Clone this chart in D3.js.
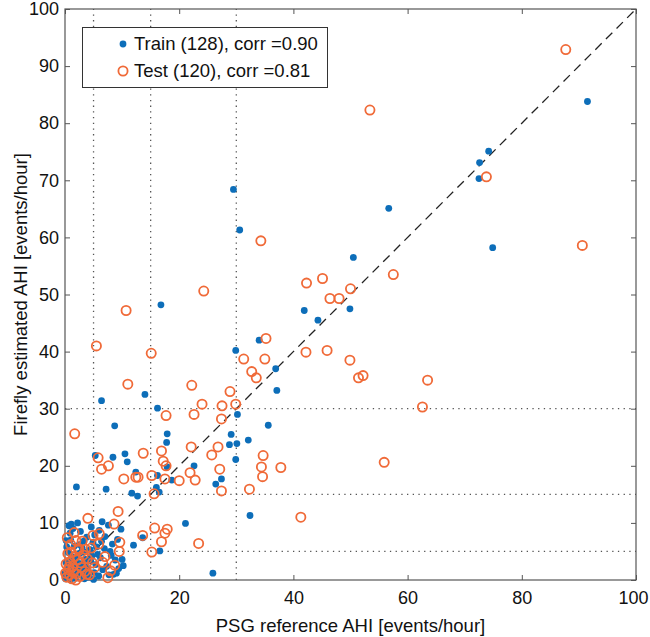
<!DOCTYPE html>
<html>
<head>
<meta charset="utf-8">
<title>Firefly estimated AHI vs PSG reference AHI</title>
<style>
    body { margin: 0; background: #fff; }
    text { font-family: 'Liberation Sans', Arial, Helvetica, sans-serif; fill: #111; }
</style>
<script src="https://d3js.org/d3.v7.min.js"></script>
</head>
<body>
<div id="chart"></div>
<script>
    // [PSG reference AHI, Firefly estimated AHI]
    var trainPts = [
        [91.5, 83.8], [74.2, 75.1], [72.6, 73.1], [72.5, 70.3], [74.9, 58.2],
        [29.5, 68.4], [30.6, 61.3], [56.7, 65.1], [50.5, 56.5], [41.9, 47.2],
        [44.3, 45.5], [49.9, 47.5], [34.0, 42.0], [29.9, 40.2], [36.9, 37.0],
        [37.1, 33.2], [30.2, 29.0], [35.6, 27.1], [29.1, 25.5], [28.8, 23.7],
        [30.1, 23.9], [32.1, 24.5], [29.9, 21.1], [22.6, 20.0], [27.4, 17.7],
        [26.4, 16.8], [16.8, 48.2], [6.4, 31.4], [14.0, 32.5], [16.2, 30.1],
        [8.7, 27.0], [17.9, 25.6], [17.8, 24.1], [5.3, 21.8], [10.5, 22.1],
        [8.4, 21.5], [10.9, 20.7], [17.9, 19.8], [2.0, 16.3], [7.2, 15.9],
        [12.4, 18.9], [11.7, 15.2], [12.7, 14.7], [16.2, 18.3], [16.0, 16.2],
        [16.5, 15.4], [18.7, 17.5], [21.1, 9.9], [13.6, 7.4], [12.0, 6.1],
        [16.6, 5.1], [1.1, 9.8], [2.2, 10.0], [6.5, 10.2], [7.6, 9.6],
        [9.8, 8.9], [3.3, 6.8], [10.0, 3.6], [10.2, 2.5], [8.5, 1.0],
        [25.9, 1.2], [32.4, 11.3],
        [0.3, 5.8], [1.0, 7.0], [1.2, 4.1], [2.6, 4.7], [4.4, 5.3],
        [5.5, 5.8], [7.9, 5.0], [8.8, 3.5], [9.0, 1.2], [0.2, 3.0],
        [0.5, 1.5], [0.8, 0.6], [1.5, 2.2], [1.8, 0.3], [2.3, 1.4],
        [2.9, 2.8], [3.1, 0.8], [3.6, 3.6], [4.0, 2.0], [4.2, 0.5],
        [4.7, 4.2], [5.1, 1.3], [5.4, 2.7], [5.9, 0.7], [6.2, 3.9],
        [6.6, 1.8], [6.9, 5.5], [7.3, 2.4], [7.7, 0.9], [8.1, 4.3],
        [9.4, 2.0], [0.1, 0.2], [0.4, 2.5], [0.6, 4.8], [1.1, 3.3],
        [1.3, 1.0], [1.6, 5.9], [2.0, 3.9], [2.1, 0.9], [2.5, 6.2],
        [2.8, 1.9], [3.3, 4.9], [3.5, 2.4], [3.9, 1.1], [0.9, 8.2],
        [1.4, 9.0], [2.7, 8.5], [3.8, 7.5], [4.6, 9.3], [5.2, 7.9],
        [6.0, 8.7], [0.2, 6.9], [0.7, 9.5], [3.0, 5.6], [4.9, 6.6],
        [5.7, 4.5], [6.4, 6.8], [7.0, 7.6], [8.3, 6.3], [9.2, 7.1],
        [0.0, 1.2], [1.0, 0.1], [2.4, 2.9], [3.4, 0.2], [4.5, 3.3],
        [5.0, 0.1]
    ];
    var testPts = [
        [87.7, 92.9], [73.8, 70.6], [90.6, 58.6], [53.4, 82.3], [34.3, 59.4],
        [24.3, 50.6], [42.3, 52.0], [45.1, 52.8], [57.5, 53.5], [50.0, 51.0],
        [46.4, 49.3], [48.0, 49.3], [35.2, 42.3], [42.2, 39.9], [45.9, 40.2],
        [49.9, 38.5], [31.3, 38.7], [35.0, 38.7], [32.7, 36.5], [33.5, 35.4],
        [51.4, 35.4], [52.2, 35.8], [63.5, 35.0], [62.6, 30.3], [22.2, 34.1],
        [28.9, 33.0], [24.0, 30.8], [22.6, 29.0], [27.5, 30.5], [29.9, 30.8],
        [27.4, 28.2], [22.1, 23.3], [26.8, 23.3], [25.7, 21.9], [34.7, 21.8],
        [34.4, 19.8], [34.6, 18.1], [37.8, 19.7], [27.1, 19.4], [22.8, 17.5],
        [21.9, 18.8], [55.9, 20.6], [27.4, 15.6], [32.3, 15.9], [10.7, 47.2],
        [5.5, 41.0], [15.1, 39.7], [11.0, 34.3], [1.7, 25.6], [17.7, 28.8],
        [5.8, 21.4], [6.4, 19.4], [7.6, 20.0], [13.7, 22.2], [16.9, 22.6],
        [17.2, 20.8], [17.7, 20.0], [10.3, 17.7], [12.4, 18.0], [12.8, 18.0],
        [15.2, 18.3], [17.5, 17.7], [20.0, 17.4], [15.6, 15.1], [9.3, 12.0],
        [4.0, 10.8], [1.6, 8.3], [8.6, 9.8], [4.9, 7.8], [6.0, 8.1],
        [5.9, 6.3], [9.6, 6.6], [9.5, 5.0], [13.6, 7.8], [15.7, 9.1],
        [16.9, 6.7], [17.5, 8.2], [17.9, 8.9], [15.2, 4.9], [2.4, 5.5],
        [7.0, 4.1], [6.6, 3.1], [8.7, 2.6], [8.0, 1.6], [7.5, 0.4],
        [1.9, 0.0], [3.8, 1.0], [4.8, 3.0], [41.3, 11.0], [23.4, 6.4],
        [0.3, 0.5], [0.6, 1.8], [0.9, 3.2], [1.2, 0.2], [1.4, 2.4],
        [1.7, 4.1], [2.0, 1.1], [2.2, 3.5], [2.6, 0.6], [2.9, 2.2],
        [3.2, 4.4], [0.2, 2.8], [0.5, 4.6], [1.0, 6.2], [1.9, 6.9],
        [3.5, 1.5], [3.9, 3.7], [4.3, 0.9], [0.1, 1.2], [1.5, 1.4],
        [2.4, 5.2], [0.8, 0.9], [4.6, 5.6], [3.0, 6.8], [0.4, 7.4],
        [5.2, 2.2], [1.1, 4.9], [2.7, 3.0], [0.7, 2.3], [3.6, 5.4]
    ];
    var xTicks = [0, 20, 40, 60, 80, 100];
    var yTicks = [0, 10, 20, 30, 40, 50, 60, 70, 80, 90, 100];
    var cutoffs = [5, 15, 30];
    var legendLabels = ["Train (128), corr =0.90", "Test (120), corr =0.81"];

    var blue = "#0d6eb9";
    var orange = "#f06a38";

    var W = 650, H = 637;
    var x = d3.scaleLinear().domain([0, 100]).range([65, 636]);
    var y = d3.scaleLinear().domain([0, 100]).range([580, 9]);

    var svg = d3.select("#chart").append("svg")
        .attr("width", W)
        .attr("height", H);

    // cut-off lines (dotted)
    svg.selectAll(".vcut").data(cutoffs).enter().append("line")
        .attr("x1", d => x(d)).attr("x2", d => x(d))
        .attr("y1", y(0)).attr("y2", y(100))
        .attr("stroke", "#555").attr("stroke-width", 1.3)
        .attr("stroke-dasharray", "1.3,4.4");
    svg.selectAll(".hcut").data(cutoffs).enter().append("line")
        .attr("y1", d => y(d)).attr("y2", d => y(d))
        .attr("x1", x(0)).attr("x2", x(100))
        .attr("stroke", "#555").attr("stroke-width", 1.3)
        .attr("stroke-dasharray", "1.3,4.4");

    // identity line
    svg.append("line")
        .attr("x1", x(0)).attr("y1", y(0))
        .attr("x2", x(100)).attr("y2", y(100))
        .attr("stroke", "#222").attr("stroke-width", 1.3)
        .attr("stroke-dasharray", "9,6");

    // axes, ticks inward on all four sides
    function styleAxis(g) {
        g.select(".domain").remove();
        g.selectAll(".tick line").attr("stroke", "#555");
        g.selectAll(".tick text").attr("font-size", "18px").attr("fill", "#111");
    }
    svg.append("g").attr("transform", "translate(0," + y(0) + ")")
        .call(d3.axisBottom(x).tickValues(xTicks).tickSizeInner(-5).tickSizeOuter(0).tickPadding(11))
        .call(styleAxis)
        .selectAll(".tick text")
        .attr("dx", d => d === 100 ? "-3px" : null);
    svg.append("g").attr("transform", "translate(0," + y(100) + ")")
        .call(d3.axisTop(x).tickValues(xTicks).tickSizeInner(-5).tickSizeOuter(0).tickFormat(""))
        .call(styleAxis);
    svg.append("g").attr("transform", "translate(" + x(0) + ",0)")
        .call(d3.axisLeft(y).tickValues(yTicks).tickSizeInner(-5).tickSizeOuter(0).tickPadding(6))
        .call(styleAxis);
    svg.append("g").attr("transform", "translate(" + x(100) + ",0)")
        .call(d3.axisRight(y).tickValues(yTicks).tickSizeInner(-5).tickSizeOuter(0).tickFormat(""))
        .call(styleAxis);

    svg.append("rect")
        .attr("x", x(0)).attr("y", y(100))
        .attr("width", x(100) - x(0)).attr("height", y(0) - y(100))
        .attr("fill", "none").attr("stroke", "#555").attr("stroke-width", 1.2);

    // points: train first, test on top
    svg.append("g").selectAll("circle").data(trainPts).enter().append("circle")
        .attr("cx", d => x(d[0])).attr("cy", d => y(d[1]))
        .attr("r", 3.4).attr("fill", blue);
    svg.append("g").selectAll("circle").data(testPts).enter().append("circle")
        .attr("cx", d => x(d[0])).attr("cy", d => y(d[1]))
        .attr("r", 4.6).attr("fill", "none")
        .attr("stroke", orange).attr("stroke-width", 1.8);

    // axis titles
    svg.append("text")
        .attr("x", (x(0) + x(100)) / 2).attr("y", 632)
        .attr("text-anchor", "middle").attr("font-size", "18.5px")
        .text("PSG reference AHI [events/hour]");
    svg.append("text")
        .attr("transform", "translate(27," + (y(0) + y(100)) / 2 + ") rotate(-90)")
        .attr("text-anchor", "middle").attr("font-size", "18.5px")
        .text("Firefly estimated AHI [events/hour]");

    // legend
    var lg = svg.append("g");
    lg.append("rect")
        .attr("x", 82.5).attr("y", 27.5).attr("width", 245).attr("height", 60)
        .attr("fill", "#fff").attr("stroke", "#333").attr("stroke-width", 1);
    lg.append("circle").attr("cx", 123).attr("cy", 44).attr("r", 3.4).attr("fill", blue);
    lg.append("circle").attr("cx", 123).attr("cy", 71).attr("r", 4.6)
        .attr("fill", "none").attr("stroke", orange).attr("stroke-width", 1.8);
    lg.selectAll(".lt").data(legendLabels).enter().append("text")
        .attr("x", 134).attr("y", (d, i) => 44 + i * 27)
        .attr("dy", "0.35em").attr("font-size", "18.5px")
        .text(d => d);
</script>
</body>
</html>
